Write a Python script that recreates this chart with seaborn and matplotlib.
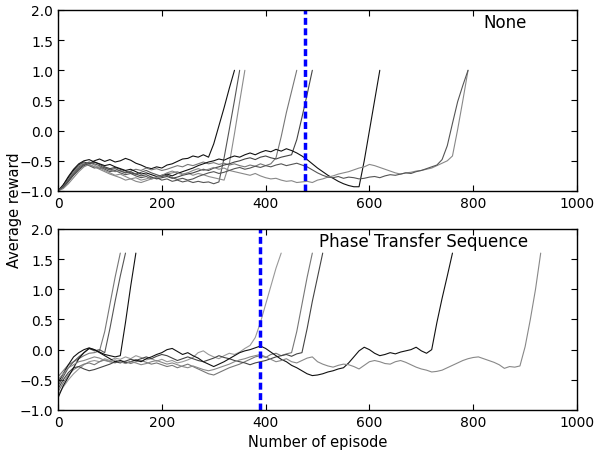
import numpy as np
import pandas as pd
import matplotlib
matplotlib.use('Agg')
import matplotlib.pyplot as plt
import seaborn as sns

# one stored point every STEP episodes
STEP = 10

# ---- top panel: no transfer ("None")
top_a = [-1.00, -0.90, -0.78, -0.66, -0.57, -0.52, -0.55, -0.50, -0.47, -0.51,
         -0.48, -0.52, -0.50, -0.46, -0.49, -0.54, -0.57, -0.61, -0.63, -0.60,
         -0.62, -0.57, -0.55, -0.51, -0.47, -0.46, -0.42, -0.44, -0.40, -0.44,
         -0.22, 0.08, 0.38, 0.70, 1.00]
top_b = [-1.00, -0.93, -0.82, -0.70, -0.60, -0.55, -0.58, -0.62, -0.60, -0.64,
         -0.68, -0.66, -0.70, -0.73, -0.71, -0.75, -0.78, -0.76, -0.80, -0.78,
         -0.82, -0.80, -0.84, -0.82, -0.85, -0.83, -0.86, -0.84, -0.86, -0.85,
         -0.88, -0.85, -0.45, 0.02, 0.50, 1.00]
top_c = [-1.00, -0.95, -0.85, -0.72, -0.62, -0.56, -0.53, -0.57, -0.62, -0.66,
         -0.70, -0.74, -0.72, -0.76, -0.80, -0.78, -0.82, -0.80, -0.77, -0.79,
         -0.75, -0.72, -0.70, -0.68, -0.72, -0.70, -0.74, -0.71, -0.73, -0.76,
         -0.78, -0.80, -0.82, -0.55, -0.05, 0.48, 1.00]
top_d = [-1.00, -0.92, -0.80, -0.68, -0.58, -0.53, -0.56, -0.60, -0.63, -0.61,
         -0.65, -0.68, -0.66, -0.70, -0.67, -0.64, -0.66, -0.62, -0.65, -0.63,
         -0.66, -0.64, -0.61, -0.58, -0.60, -0.56, -0.58, -0.55, -0.52, -0.55,
         -0.53, -0.56, -0.54, -0.57, -0.55, -0.58, -0.60, -0.57, -0.59, -0.55,
         -0.58, -0.55, -0.45, -0.10, 0.30, 0.65, 1.00]
top_e = [-1.00, -0.94, -0.84, -0.74, -0.65, -0.58, -0.55, -0.52, -0.56, -0.60,
         -0.63, -0.61, -0.64, -0.67, -0.70, -0.72, -0.75, -0.73, -0.77, -0.80,
         -0.78, -0.76, -0.79, -0.77, -0.74, -0.72, -0.70, -0.67, -0.64, -0.66,
         -0.62, -0.60, -0.57, -0.55, -0.52, -0.50, -0.47, -0.45, -0.48, -0.44,
         -0.42, -0.45, -0.47, -0.44, -0.42, -0.40, -0.15, 0.22, 0.60, 1.00]
top_f = [-1.00, -0.90, -0.76, -0.64, -0.55, -0.50, -0.48, -0.52, -0.55, -0.58,
         -0.56, -0.60, -0.63, -0.66, -0.64, -0.68, -0.72, -0.70, -0.73, -0.76,
         -0.74, -0.72, -0.75, -0.71, -0.68, -0.65, -0.62, -0.58, -0.55, -0.52,
         -0.50, -0.47, -0.49, -0.45, -0.42, -0.44, -0.40, -0.37, -0.40, -0.36,
         -0.33, -0.35, -0.31, -0.34, -0.30, -0.33, -0.37, -0.42, -0.48, -0.55,
         -0.62, -0.68, -0.74, -0.79, -0.84, -0.88, -0.91, -0.93, -0.93, -0.50,
         0.00, 0.50, 1.00]
top_g = [-1.00, -0.96, -0.88, -0.78, -0.68, -0.60, -0.56, -0.60, -0.64, -0.68,
         -0.72, -0.75, -0.78, -0.82, -0.80, -0.84, -0.86, -0.83, -0.80, -0.77,
         -0.74, -0.70, -0.67, -0.70, -0.73, -0.70, -0.66, -0.63, -0.66, -0.64,
         -0.61, -0.64, -0.62, -0.66, -0.68, -0.70, -0.72, -0.74, -0.71, -0.75,
         -0.78, -0.80, -0.79, -0.82, -0.84, -0.83, -0.86, -0.85, -0.84, -0.86,
         -0.82, -0.80, -0.77, -0.75, -0.72, -0.70, -0.68, -0.65, -0.62, -0.60,
         -0.56, -0.58, -0.61, -0.64, -0.67, -0.70, -0.72, -0.70, -0.69, -0.67,
         -0.66, -0.64, -0.62, -0.58, -0.54, -0.50, -0.42, 0.02, 0.50, 1.00]
top_h = [-1.00, -0.92, -0.82, -0.72, -0.63, -0.56, -0.52, -0.55, -0.58, -0.62,
         -0.65, -0.63, -0.67, -0.70, -0.68, -0.72, -0.69, -0.66, -0.70, -0.73,
         -0.76, -0.74, -0.78, -0.81, -0.79, -0.82, -0.80, -0.76, -0.73, -0.70,
         -0.68, -0.71, -0.69, -0.66, -0.63, -0.61, -0.64, -0.62, -0.59, -0.61,
         -0.58, -0.60, -0.57, -0.55, -0.58, -0.56, -0.54, -0.57, -0.60, -0.65,
         -0.70, -0.74, -0.77, -0.78, -0.76, -0.79, -0.77, -0.78, -0.80, -0.79,
         -0.77, -0.76, -0.78, -0.75, -0.73, -0.74, -0.72, -0.70, -0.71, -0.68,
         -0.66, -0.63, -0.60, -0.57, -0.48, -0.25, 0.12, 0.48, 0.75, 1.00]
top_runs = {'a': top_a, 'b': top_b, 'c': top_c, 'd': top_d,
            'e': top_e, 'f': top_f, 'g': top_g, 'h': top_h}
top_colors = {'a': '#111111', 'b': '#555555', 'c': '#8c8c8c', 'd': '#777777',
              'e': '#444444', 'f': '#111111', 'g': '#888888', 'h': '#555555'}
top_switch = 475

# ---- bottom panel: phase transfer sequence
bot_a = [-0.45, -0.35, -0.25, -0.20, -0.15, -0.10, -0.06, -0.05, -0.02, 0.30,
         0.75, 1.20, 1.60]
bot_b = [-0.60, -0.45, -0.30, -0.20, -0.12, -0.05, 0.02, -0.02, 0.00, -0.05,
         0.35, 0.80, 1.22, 1.60]
bot_c = [-0.55, -0.40, -0.25, -0.12, -0.05, 0.00, 0.03, 0.00, -0.04, -0.08,
         -0.10, -0.12, -0.10, 0.45, 1.05, 1.60]
bot_d = [-0.75, -0.62, -0.50, -0.40, -0.32, -0.25, -0.20, -0.18, -0.20, -0.15,
         -0.18, -0.14, -0.16, -0.12, -0.15, -0.10, -0.13, -0.17, -0.15, -0.19,
         -0.16, -0.20, -0.18, -0.22, -0.20, -0.17, -0.13, -0.05, -0.02, -0.08,
         -0.12, -0.15, -0.10, -0.06, -0.08, -0.04, 0.02, 0.07, 0.20, 0.45,
         0.75, 1.05, 1.35, 1.60]
bot_e = [-0.70, -0.55, -0.42, -0.33, -0.28, -0.24, -0.22, -0.25, -0.20, -0.17,
         -0.20, -0.22, -0.18, -0.20, -0.23, -0.20, -0.18, -0.21, -0.24, -0.22,
         -0.25, -0.28, -0.26, -0.30, -0.27, -0.24, -0.28, -0.32, -0.36, -0.40,
         -0.42, -0.38, -0.34, -0.30, -0.27, -0.24, -0.20, -0.16, -0.12, -0.10,
         -0.13, -0.08, -0.06, -0.10, -0.07, -0.05, 0.30, 0.75, 1.20, 1.60]
bot_f = [-0.65, -0.50, -0.38, -0.30, -0.28, -0.32, -0.35, -0.33, -0.30, -0.27,
         -0.24, -0.20, -0.22, -0.19, -0.16, -0.18, -0.15, -0.12, -0.15, -0.11,
         -0.08, -0.10, -0.14, -0.18, -0.15, -0.12, -0.15, -0.18, -0.20, -0.17,
         -0.14, -0.10, -0.13, -0.15, -0.18, -0.20, -0.22, -0.25, -0.22, -0.20,
         -0.18, -0.15, -0.12, -0.10, -0.08, -0.11, -0.07, -0.05, 0.35, 0.80,
         1.20, 1.60]
bot_g = [-0.80, -0.60, -0.45, -0.30, -0.15, -0.05, 0.02, 0.00, -0.05, -0.10,
         -0.15, -0.20, -0.18, -0.22, -0.20, -0.17, -0.20, -0.15, -0.12, -0.08,
         -0.05, 0.00, 0.02, -0.03, -0.08, -0.05, -0.10, -0.14, -0.20, -0.24,
         -0.28, -0.24, -0.20, -0.15, -0.10, -0.05, -0.02, 0.00, 0.03, 0.06,
         0.02, -0.04, -0.10, -0.16, -0.20, -0.26, -0.30, -0.35, -0.40, -0.43,
         -0.42, -0.40, -0.37, -0.35, -0.32, -0.30, -0.22, -0.12, -0.02, 0.04,
         0.00, -0.06, -0.10, -0.08, -0.05, -0.07, -0.04, -0.02, 0.00, 0.04,
         -0.02, -0.06, 0.00, 0.45, 0.85, 1.22, 1.60]
bot_h = [-0.50, -0.40, -0.30, -0.25, -0.20, -0.18, -0.15, -0.12, -0.14, -0.18,
         -0.20, -0.17, -0.20, -0.23, -0.20, -0.22, -0.25, -0.23, -0.20, -0.18,
         -0.21, -0.24, -0.22, -0.25, -0.28, -0.30, -0.27, -0.30, -0.33, -0.35,
         -0.33, -0.30, -0.27, -0.24, -0.20, -0.17, -0.15, -0.12, -0.10, -0.08,
         -0.12, -0.16, -0.20, -0.18, -0.15, -0.20, -0.22, -0.18, -0.14, -0.12,
         -0.20, -0.24, -0.27, -0.29, -0.26, -0.24, -0.25, -0.28, -0.32, -0.26,
         -0.20, -0.18, -0.20, -0.23, -0.24, -0.20, -0.18, -0.21, -0.25, -0.29,
         -0.32, -0.34, -0.37, -0.36, -0.34, -0.30, -0.26, -0.22, -0.18, -0.15,
         -0.13, -0.12, -0.15, -0.18, -0.21, -0.25, -0.31, -0.28, -0.29, -0.27,
         0.05, 0.50, 1.00, 1.60]
bot_runs = {'a': bot_a, 'b': bot_b, 'c': bot_c, 'd': bot_d,
            'e': bot_e, 'f': bot_f, 'g': bot_g, 'h': bot_h}
bot_colors = {'a': '#777777', 'b': '#555555', 'c': '#111111', 'd': '#999999',
              'e': '#777777', 'f': '#444444', 'g': '#111111', 'h': '#888888'}
bot_switch = 390


def to_frame(runs):
    parts = []
    for name, vals in runs.items():
        parts.append(pd.DataFrame({'episode': np.arange(len(vals)) * STEP,
                                   'reward': vals, 'run': name}))
    return pd.concat(parts, ignore_index=True)


sns.set_style('ticks')
plt.rcParams['font.family'] = ['DejaVu Sans']
plt.rcParams.update({'axes.edgecolor': 'black', 'text.color': 'black',
                     'xtick.color': 'black', 'ytick.color': 'black',
                     'axes.labelcolor': 'black'})

fig = plt.figure(figsize=(5.95, 4.56), dpi=100)
ax1 = fig.add_axes([0.0975, 0.579, 0.8723, 0.397])
ax2 = fig.add_axes([0.0975, 0.0987, 0.8723, 0.397])

panels = [(ax1, top_runs, top_colors, top_switch, 'None', 0.861),
          (ax2, bot_runs, bot_colors, bot_switch, 'Phase Transfer Sequence', 0.705)]

for ax, runs, colors, switch, label, lx in panels:
    df = to_frame(runs)
    sns.lineplot(data=df, x='episode', y='reward', hue='run', palette=colors,
                 estimator=None, sort=False, lw=0.8, legend=False, ax=ax)
    ax.axvline(switch, color='blue', lw=2.5, ls=(0, (2, 1)))
    ax.set_xlim(0, 1000)
    ax.set_ylim(-1, 2)
    ax.set_xticks(range(0, 1001, 200))
    ax.set_yticks(np.arange(-1, 2.01, 0.5))
    ax.tick_params(direction='in', top=True, right=True, length=4,
                   width=0.8, labelsize=10)
    ax.set_xlabel('')
    ax.set_ylabel('')
    for s in ax.spines.values():
        s.set_linewidth(1.0)
    ax.text(lx, 0.934, label, transform=ax.transAxes, ha='center',
            va='center', fontsize=12)

ax2.set_xlabel('Number of episode', fontsize=10.5)
fig.text(0.025, 0.539, 'Average reward', rotation=90, ha='center',
         va='center', fontsize=10.5)

fig.savefig('out.png', dpi=100)
